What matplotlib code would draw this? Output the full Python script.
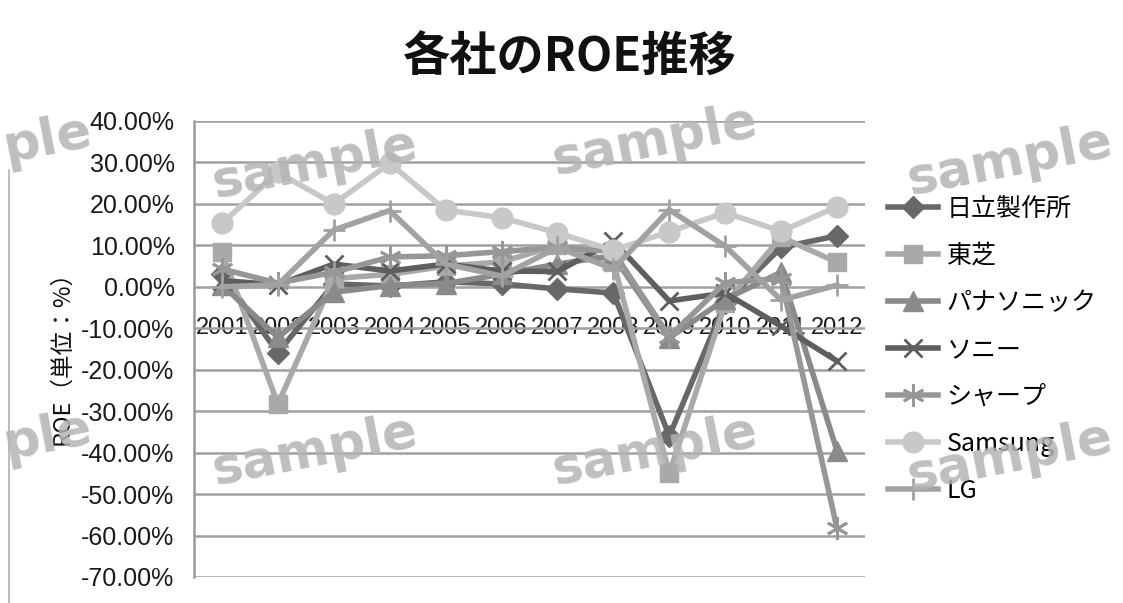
import matplotlib
matplotlib.use("Agg")
import matplotlib.pyplot as plt
from matplotlib.lines import Line2D
import numpy as np

years = ['2001', '2002', '2003', '2004', '2005', '2006', '2007', '2008', '2009', '2010', '2011', '2012']
hitachi   = [3.0, -15.9, 0.7, 0.2, 1.2, 0.7, -0.5, -1.5, -36.0, -3.8, 9.5, 12.3]
toshiba   = [8.3, -28.3, 2.0, 3.0, 5.0, 6.0, 10.0, 6.0, -45.0, -4.0, 12.0, 5.9]
panasonic = [0.5, -12.2, -1.3, 0.3, 0.8, 3.0, 5.5, 7.5, -12.3, -3.0, 3.5, -39.6]
sony      = [1.5, 0.5, 5.5, 3.8, 5.5, 3.8, 3.7, 11.0, -3.4, -1.5, -9.5, -17.9]
sharp     = [4.3, 0.9, 3.5, 7.2, 7.5, 8.5, 9.5, 8.5, -12.0, 1.0, 2.0, -58.3]
samsung   = [15.3, 27.6, 20.0, 29.8, 18.5, 16.7, 13.0, 8.8, 13.3, 17.9, 13.4, 19.3]
lg        = [0.0, 0.5, 13.7, 18.4, 5.5, 2.6, 9.5, 4.3, 18.6, 9.8, -3.2, 0.4]
names = ['日立製作所', '東芝', 'パナソニック', 'ソニー', 'シャープ', 'Samsung', 'LG']
y_ticks = [40, 30, 20, 10, 0, -10, -20, -30, -40, -50, -60, -70]

plt.rcParams['font.family'] = ['Noto Sans CJK JP', 'DejaVu Sans']

W, H = 1123, 603
fig = plt.figure(figsize=(W / 100, H / 100), dpi=100)
fig.patch.set_facecolor('white')

ax_l, ax_r, ax_t, ax_b = 194, 865, 121, 577
ax = fig.add_axes([ax_l / W, 1 - ax_b / H, (ax_r - ax_l) / W, (ax_b - ax_t) / H])

series = [hitachi, toshiba, panasonic, sony, sharp, samsung, lg]
styles = [
    dict(color='#686868', marker='D', ms=11),
    dict(color='#a9a9ab', marker='s', ms=13),
    dict(color='#8a8a8a', marker='^', ms=14),
    dict(color='#5e5e5e', marker='x', ms=13, mew=2),
    dict(color='#979797', marker=(6, 2, 0), ms=16, mew=2),
    dict(color='#c8c8c8', marker='o', ms=15),
    dict(color='#a2a2a2', marker='+', ms=16, mew=2),
]
x = np.arange(len(years))
handles = []
for vals, st, nm in zip(series, styles, names):
    ln, = ax.plot(x, vals, color=st['color'], lw=4.0, marker=st['marker'],
                  ms=st['ms'], mew=st.get('mew', 1), mec=st['color'],
                  mfc=st['color'], label=nm, zorder=3, solid_joinstyle='miter')
    handles.append(ln)

ax.set_xlim(-0.5, len(years) - 0.5)
ax.set_ylim(-70, 40)
for s in ['top', 'right']:
    ax.spines[s].set_visible(False)
ax.spines['left'].set_color('#9a9a9a')
ax.spines['left'].set_linewidth(1.8)
ax.spines['bottom'].set_position(('data', 0))
ax.spines['bottom'].set_visible(False)

ax.set_yticks(y_ticks)
ax.set_yticklabels([f'{v:.2f}%' for v in y_ticks])
ax.set_xticks(x)
ax.set_xticklabels(years)
for lab in ax.get_yticklabels():
    lab.set_fontfamily('Liberation Sans')
    lab.set_fontsize(18)
for lab in ax.get_xticklabels():
    lab.set_fontfamily('Liberation Sans')
    lab.set_fontsize(17)
ax.yaxis.grid(True, color='#a0a0a0', lw=1.8)
ax.set_axisbelow(True)
ax.tick_params(axis='y', length=0, pad=14, colors='#1a1a1a')
ax.tick_params(axis='x', length=0, pad=22, colors='#1a1a1a')

leg = fig.legend(handles=handles, loc='upper left', bbox_to_anchor=(888 / W, 1 - 196 / H),
                 frameon=False, fontsize=18, handlelength=2.0, handletextpad=0.35,
                 labelspacing=0.84, borderpad=0, borderaxespad=0)

fig.text(570 / W, 1 - 58 / H, '各社のROE推移', ha='center', va='center',
         fontsize=34, fontweight='bold', color='#111111')
fig.text(62 / W, 1 - 352 / H, 'ROE（単位：%）', ha='center', va='center',
         rotation=90, fontsize=17, color='#111111')

# left border of chart area
fig.add_artist(Line2D([9 / W, 9 / W], [0, 1 - 170 / H], transform=fig.transFigure,
                      color='#b0b0b0', lw=1.2))

# watermark overlays
wm = [(315, 165), (655, 142), (1010, 162), (315, 452), (655, 452), (1010, 458)]
for cx, cy in wm:
    fig.text(cx / W, 1 - cy / H, 'sample', ha='center', va='center', rotation=11,
             fontsize=37, fontweight='bold', family='DejaVu Sans', color='#b4b4b4',
             alpha=0.85, zorder=10)
for cx, cy in [(48, 140), (48, 437)]:
    fig.text(cx / W, 1 - cy / H, 'ple', ha='center', va='center', rotation=11,
             fontsize=37, fontweight='bold', family='DejaVu Sans', color='#b4b4b4',
             alpha=0.85, zorder=10)

fig.savefig('out.png', dpi=100)
